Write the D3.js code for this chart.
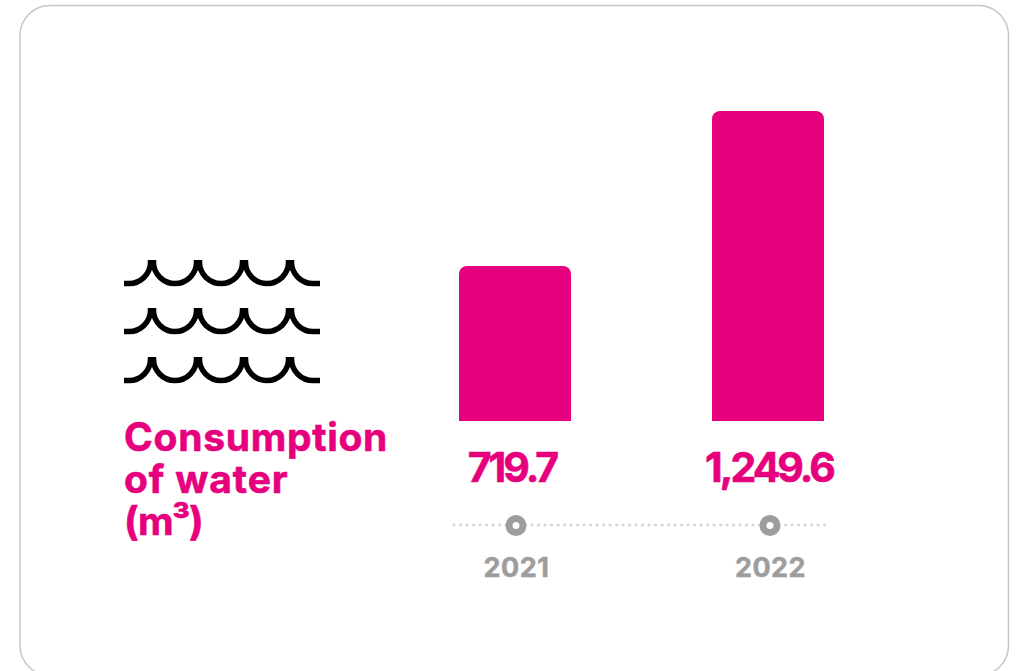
<!DOCTYPE html>
<html>
<head>
<meta charset="utf-8">
<script src="https://cdn.jsdelivr.net/npm/d3@7"></script>
<style>
  html, body { margin: 0; padding: 0; background: #fff; overflow: hidden; }
  svg { display: block; }
  text { font-family: Inter, sans-serif; font-weight: 700; }
</style>
</head>
<body>
<script>
const years = ['2021', '2022']
const values = [719.7, 1249.6]
const valueLabels = ['719.7', '1,249.6']
const titleLines = ['Consumption', 'of water', '(m³)']

const pink = '#e6007e'
const grey = '#9d9d9d'

const width = 1020, height = 671

const svg = d3.select('body').append('svg')
    .attr('width', width)
    .attr('height', height)

// card outline, the bottom edge runs just past the picture
svg.append('rect')
    .attr('x', 20)
    .attr('y', 5.5)
    .attr('width', 988.5)
    .attr('height', 670)
    .attr('rx', 30)
    .attr('fill', '#fff')
    .attr('stroke', '#c6c6c6')
    .attr('stroke-width', 1.5)

// wave icon, three rows of scallops
function wavePath(top) {
    const r = 21.5, y = top + 2, low = y + r
    let p = `M124,${low}H129A${r},${r} 0 0 0 150.5,${y}V${top}`
    for (const peak of [152, 198, 244]) {
        p += `M${peak + 1.5},${top}V${y}A${r},${r} 0 0 0 ${peak + 44.5},${y}V${top}`
    }
    p += `M291.5,${top}V${y}A${r},${r} 0 0 0 313,${low}H320`
    return p
}

svg.selectAll('.wave').data([260, 308, 357])
    .enter()
    .append('path')
        .attr('class', 'wave')
        .attr('d', d => wavePath(d))
        .attr('fill', 'none')
        .attr('stroke', '#000')
        .attr('stroke-width', 5.5)

// title
svg.selectAll('.title').data(titleLines)
    .enter()
    .append('text')
        .attr('class', 'title')
        .attr('x', 124)
        .attr('y', (d, i) => [451, 493, 535][i])
        .attr('fill', pink)
        .attr('stroke', pink)
        .attr('stroke-width', 0.6)
        .style('font-size', '39px')
        .style('letter-spacing', (d, i) => ['0.7px', '0.9px', '-1.5px'][i])
        .text(d => d)

// bars. The source bars are not proportional to their labels (2021 is drawn at
// half the height of 2022), so the scale goes through both values to keep that.
const xScale = d3.scaleBand()
    .domain(years)
    .range([459, 824])
    .paddingInner(141 / 253)

const yScale = d3.scaleLinear()
    .domain([0, values[0], values[1]])
    .range([421, 266, 111])

const barR = 8
svg.selectAll('.bar').data(values)
    .enter()
    .append('path')
        .attr('class', 'bar')
        .attr('fill', pink)
        .attr('d', (d, i) => {
            const x0 = xScale(years[i]), x1 = x0 + xScale.bandwidth()
            return `M${x0},${yScale(0)}V${yScale(d) + barR}`
                + `A${barR},${barR} 0 0 1 ${x0 + barR},${yScale(d)}H${x1 - barR}`
                + `A${barR},${barR} 0 0 1 ${x1},${yScale(d) + barR}V${yScale(0)}Z`
        })

// value labels
svg.selectAll('.value').data(valueLabels)
    .enter()
    .append('text')
        .attr('class', 'value')
        .attr('x', (d, i) => xScale(years[i]) + xScale.bandwidth() / 2 + [-3, 1][i])
        .attr('y', 482)
        .attr('text-anchor', 'middle')
        .attr('fill', pink)
        .attr('stroke', pink)
        .attr('stroke-width', 0.6)
        .style('font-size', '41px')
        .style('letter-spacing', '-3px')
        .text(d => d)

// timeline
const timeScale = d3.scalePoint()
    .domain(years)
    .range([516, 770])

svg.append('line')
    .attr('x1', 454)
    .attr('x2', 825)
    .attr('y1', 525)
    .attr('y2', 525)
    .attr('stroke', '#d6d6d6')
    .attr('stroke-width', 3)
    .attr('stroke-linecap', 'round')
    .attr('stroke-dasharray', '0.1 6.4')

svg.selectAll('.stop').data(years)
    .enter()
    .append('circle')
        .attr('class', 'stop')
        .attr('cx', d => timeScale(d))
        .attr('cy', 525.5)
        .attr('r', 7)
        .attr('fill', '#fff')
        .attr('stroke', grey)
        .attr('stroke-width', 7)

const axis = svg.append('g')
    .attr('transform', 'translate(0,552)')
    .call(d3.axisBottom(timeScale).tickSize(0).tickPadding(0))

axis.select('.domain').remove()
axis.selectAll('text')
    .attr('dy', 0)
    .attr('y', 25)
    .attr('fill', grey)
    .attr('stroke', grey)
    .attr('stroke-width', 0.5)
    .style('font-size', '27px')
    .style('letter-spacing', '0.5px')
</script>
</body>
</html>
